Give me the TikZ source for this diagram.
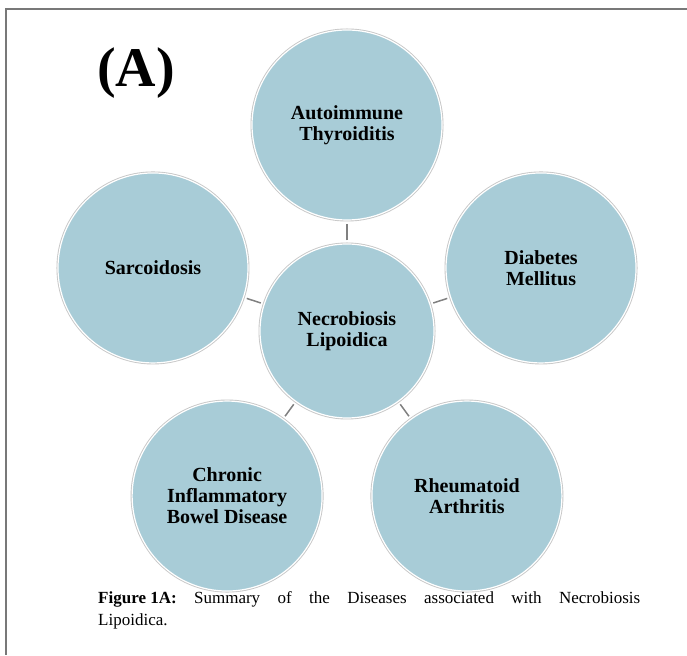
\documentclass[tikz,border=0pt]{standalone}
\usepackage{fontspec}
\setmainfont{Liberation Serif}
\usetikzlibrary{positioning, calc}

\definecolor{bubblefill}{RGB}{168,204,215}
\definecolor{framegray}{RGB}{120,120,120}

\begin{document}
\begin{tikzpicture}[x=1pt, y=1pt,
    bubble/.style={circle, fill=bubblefill, draw=white, line width=1.2pt,
        preaction={draw=black!22, line width=3pt},
        minimum size=190pt, inner sep=0pt, align=center,
        font=\fontsize{20}{21}\selectfont\bfseries},
    hub/.style={bubble, minimum size=174pt},
    link/.style={draw=gray, line width=1.5pt, shorten <=3pt, shorten >=3pt}]
    \useasboundingbox (0,0) rectangle (687,655);

    % Frame
    \draw[framegray, line width=1.5pt] (687,646) -- (6,646) -- (6,0);

    % Panel label
    \node[font=\fontsize{56}{56}\selectfont\bfseries] (panel) at (136,582) {(A)};

    % Centre
    \node[hub] (necro) at (347,324) {Necrobiosis\\Lipoidica};

    % Associated diseases
    \node[bubble] (thyro) at ($(necro)+(90:206pt)$) {Autoimmune\\Thyroiditis};
    \node[bubble] (diab) at ($(necro)+(18:204pt)$) {Diabetes\\Mellitus};
    \node[bubble] (rheum) at ($(necro)+(-54:204pt)$) {Rheumatoid\\Arthritis};
    \node[bubble] (bowel) at ($(necro)+(-126:204pt)$) {Chronic\\Inflammatory\\Bowel Disease};
    \node[bubble] (sarc) at ($(necro)+(162:204pt)$) {Sarcoidosis};

    % Links
    \foreach \n in {thyro, diab, rheum, bowel, sarc} {
        \draw[link] (necro) -- (\n);
    }

    % Caption
    \node[anchor=north west, text width=542pt, align=justify, inner sep=0pt,
        font=\fontsize{17}{22}\selectfont] (caption) at (98,64)
        {\mbox{\textbf{Figure 1A:}} Summary of the Diseases associated with Necrobiosis\linebreak Lipoidica.};

\end{tikzpicture}
\end{document}
